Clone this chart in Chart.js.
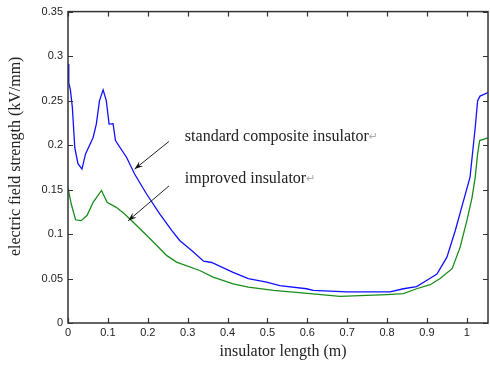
<!DOCTYPE html>
<html><head><meta charset="utf-8">
<script src="https://cdn.jsdelivr.net/npm/chart.js@4/dist/chart.umd.min.js"></script>
<style>html,body{margin:0;padding:0;background:#fff}#wrap{width:490px;height:367px;position:relative}</style>
</head><body><div id="wrap"><canvas id="c" width="490" height="367"></canvas></div>
<script>
const stdX = [0, 0.002, 0.006, 0.011, 0.017, 0.025, 0.035, 0.044, 0.063, 0.071, 0.079, 0.088, 0.096, 0.103, 0.113, 0.119, 0.147, 0.167, 0.197, 0.23, 0.26, 0.28, 0.31, 0.34, 0.36, 0.414, 0.452, 0.498, 0.531, 0.598, 0.615, 0.699, 0.807, 0.841, 0.874, 0.9, 0.925, 0.95, 0.971, 0.987, 1.008, 1.021, 1.027, 1.033, 1.053];
const stdY = [0.291, 0.27, 0.262, 0.242, 0.197, 0.179, 0.173, 0.19, 0.2085, 0.2235, 0.25, 0.262, 0.25, 0.2235, 0.224, 0.205, 0.186, 0.1675, 0.145, 0.1226, 0.104, 0.0927, 0.0815, 0.0695, 0.068, 0.057, 0.05, 0.046, 0.042, 0.0385, 0.0367, 0.035, 0.035, 0.0385, 0.041, 0.048, 0.055, 0.074, 0.104, 0.13, 0.164, 0.22, 0.25, 0.255, 0.259];
const impX = [0, 0.008, 0.019, 0.033, 0.048, 0.063, 0.084, 0.098, 0.121, 0.142, 0.172, 0.214, 0.247, 0.272, 0.33, 0.364, 0.414, 0.452, 0.515, 0.607, 0.682, 0.8, 0.841, 0.874, 0.908, 0.933, 0.963, 0.983, 1.0, 1.013, 1.021, 1.027, 1.032, 1.053];
const impY = [0.152, 0.134, 0.116, 0.115, 0.121, 0.1357, 0.149, 0.1357, 0.13, 0.1226, 0.1095, 0.091, 0.076, 0.0685, 0.059, 0.0516, 0.044, 0.0404, 0.0367, 0.033, 0.030, 0.032, 0.033, 0.0385, 0.043, 0.05, 0.061, 0.085, 0.115, 0.141, 0.164, 0.19, 0.205, 0.208];
const xTicks = [0, 0.1, 0.2, 0.3, 0.4, 0.5, 0.6, 0.7, 0.8, 0.9, 1];
const yTicks = [0, 0.05, 0.1, 0.15, 0.2, 0.25, 0.3, 0.35];
const xLabel = 'insulator length (m)';
const yLabel = 'electric field strength (kV/mm)';
const notes = [
  {text: 'standard composite insulator', x: 0.293, y: 0.209, tail: [0.253, 0.204], head: [0.167, 0.173]},
  {text: 'improved insulator', x: 0.293, y: 0.162, tail: [0.253, 0.154], head: [0.151, 0.115]}
];

const toPts = (xs, ys) => xs.map((x, i) => ({x: x, y: ys[i]}));
const fmt = v => String(+(+v).toFixed(2));

const deco = {
  id: 'deco',
  afterDraw(chart) {
    const {ctx, chartArea: a, scales: {x, y}} = chart;
    ctx.save();
    ctx.strokeStyle = '#333';
    ctx.lineWidth = 1.5;
    ctx.strokeRect(a.left, a.top, a.right - a.left, a.bottom - a.top);
    ctx.lineWidth = 1.2;
    ctx.beginPath();
    xTicks.forEach(v => {
      const px = Math.round(x.getPixelForValue(v)) + 0.5;
      ctx.moveTo(px, a.bottom); ctx.lineTo(px, a.bottom - 5);
      ctx.moveTo(px, a.top); ctx.lineTo(px, a.top + 5);
    });
    yTicks.forEach(v => {
      const py = Math.round(y.getPixelForValue(v)) + 0.5;
      ctx.moveTo(a.left, py); ctx.lineTo(a.left + 5, py);
      ctx.moveTo(a.right, py); ctx.lineTo(a.right - 5, py);
    });
    ctx.stroke();

    // axis titles
    ctx.fillStyle = '#222';
    ctx.font = '16px "Liberation Serif", "Times New Roman", serif';
    ctx.textAlign = 'center';
    ctx.textBaseline = 'middle';
    ctx.fillText(xLabel, (a.left + a.right) / 2 + 5, 352);
    ctx.save();
    ctx.translate(16, (a.top + a.bottom) / 2 - 11);
    ctx.rotate(-Math.PI / 2);
    ctx.fillText(yLabel, 0, 0);
    ctx.restore();

    // annotations
    notes.forEach(n => {
      ctx.font = '16px "Liberation Serif", "Times New Roman", serif';
      ctx.textAlign = 'left';
      ctx.fillStyle = '#222';
      const tx = x.getPixelForValue(n.x), ty = y.getPixelForValue(n.y);
      ctx.fillText(n.text, tx, ty);
      const w = ctx.measureText(n.text).width;
      ctx.fillStyle = '#aaa';
      ctx.font = '11px "DejaVu Sans", sans-serif';
      ctx.fillText('\u21B5', tx + w, ty);
      const x1 = x.getPixelForValue(n.tail[0]), y1 = y.getPixelForValue(n.tail[1]);
      const x2 = x.getPixelForValue(n.head[0]), y2 = y.getPixelForValue(n.head[1]);
      ctx.strokeStyle = '#222';
      ctx.lineWidth = 1;
      ctx.beginPath(); ctx.moveTo(x1, y1); ctx.lineTo(x2, y2); ctx.stroke();
      const ang = Math.atan2(y2 - y1, x2 - x1), L = 9, W = 0.35;
      ctx.fillStyle = '#111';
      ctx.beginPath();
      ctx.moveTo(x2, y2);
      ctx.lineTo(x2 - L * Math.cos(ang - W), y2 - L * Math.sin(ang - W));
      ctx.lineTo(x2 - L * 0.6 * Math.cos(ang), y2 - L * 0.6 * Math.sin(ang));
      ctx.lineTo(x2 - L * Math.cos(ang + W), y2 - L * Math.sin(ang + W));
      ctx.closePath(); ctx.fill();
    });
    ctx.restore();
  }
};

const tickFont = {family: '"Liberation Sans", Arial, sans-serif', size: 11};
new Chart(document.getElementById('c'), {
  type: 'line',
  data: {
    datasets: [
      {label: 'standard composite insulator', data: toPts(stdX, stdY), borderColor: '#1010ff', borderWidth: 1.3, pointRadius: 0, tension: 0, fill: false},
      {label: 'improved insulator', data: toPts(impX, impY), borderColor: '#1a8c1a', borderWidth: 1.3, pointRadius: 0, tension: 0, fill: false}
    ]
  },
  options: {
    responsive: false,
    animation: false,
    layout: {padding: {top: 10, right: 2, left: 0, bottom: 0}},
    plugins: {legend: {display: false}, tooltip: {enabled: false}},
    scales: {
      x: {
        type: 'linear', min: 0, max: 1.053,
        afterBuildTicks: s => { s.ticks = xTicks.map(v => ({value: v})); },
        afterFit: s => { s.height = 44; },
        grid: {display: false, drawTicks: false},
        border: {display: false},
        ticks: {callback: fmt, autoSkip: false, maxRotation: 0, padding: 3, color: '#222', font: tickFont}
      },
      y: {
        type: 'linear', min: 0, max: 0.35,
        afterBuildTicks: s => { s.ticks = yTicks.map(v => ({value: v})); },
        afterFit: s => { s.width = 68; },
        grid: {display: false, drawTicks: false},
        border: {display: false},
        ticks: {callback: fmt, autoSkip: false, padding: 5, color: '#222', font: tickFont}
      }
    }
  },
  plugins: [deco]
});
</script>
</body></html>
